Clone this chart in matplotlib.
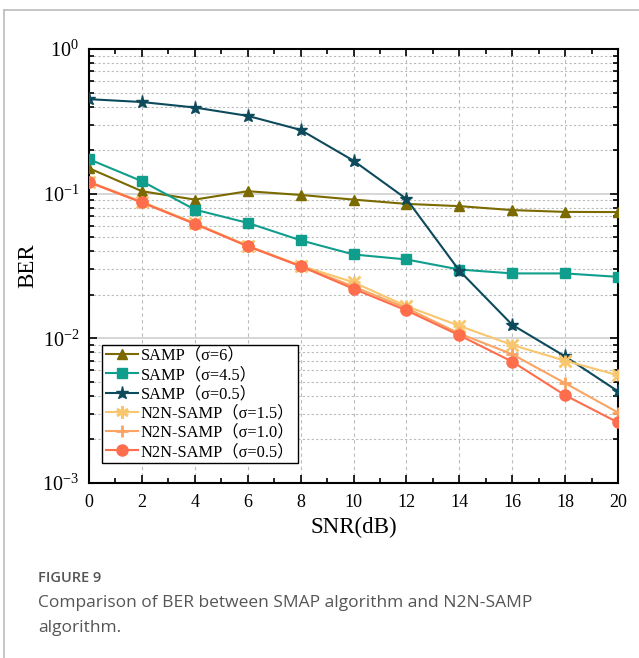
import numpy as np
import matplotlib
matplotlib.use('Agg')
import matplotlib.pyplot as plt
from matplotlib.ticker import LogLocator, MultipleLocator, NullFormatter
from matplotlib.lines import Line2D

snr = [0, 2, 4, 6, 8, 10, 12, 14, 16, 18, 20]

samp_6 = [0.150, 0.104, 0.091, 0.104, 0.098, 0.091, 0.085, 0.082, 0.077, 0.0748, 0.0746]
samp_45 = [0.173, 0.122, 0.0776, 0.0628, 0.0476, 0.0380, 0.0351, 0.0299, 0.0281, 0.0281, 0.0266]
samp_05 = [0.45, 0.43, 0.394, 0.345, 0.276, 0.169, 0.092, 0.0294, 0.0124, 0.0075, 0.0043]
n2n_15 = [0.121, 0.088, 0.0625, 0.0437, 0.0318, 0.0244, 0.0167, 0.0122, 0.0090, 0.0070, 0.00556]
n2n_10 = [0.120, 0.087, 0.0620, 0.0434, 0.0316, 0.0228, 0.0162, 0.0108, 0.00776, 0.0049, 0.00307]
n2n_05 = [0.120, 0.087, 0.0618, 0.0433, 0.0315, 0.0220, 0.0156, 0.0105, 0.0069, 0.00404, 0.00262]

labels = ['SAMP（σ=6）', 'SAMP（σ=4.5）', 'SAMP（σ=0.5）',
          'N2N-SAMP（σ=1.5）', 'N2N-SAMP（σ=1.0）', 'N2N-SAMP（σ=0.5）']
colors = ['#7a6a00', '#109e8c', '#0c4a5c', '#f8c66c', '#f9a463', '#fe6d4c']
markers = ['^', 's', '*', 'x', '+', 'o']
msizes = [7, 7, 9.5, 9, 9, 8]

serif = ['Liberation Serif', 'Noto Sans CJK SC']
plt.rcParams['font.family'] = serif
plt.rcParams['mathtext.fontset'] = 'stix'

fig = plt.figure(figsize=(6.39, 6.58), dpi=100, facecolor='white')
ax = fig.add_axes([89/639, 1-483/658, (618-89)/639, (483-49)/658])

series = [samp_6, samp_45, samp_05, n2n_15, n2n_10, n2n_05]
for vals, lab, c, m, ms in zip(series, labels, colors, markers, msizes):
    mew = 2 if m in ('x', '+') else 1
    ax.plot(snr, vals, color=c, marker=m, markersize=ms, markeredgewidth=mew,
            linewidth=1.5, label=lab, zorder=3)
    if m == 'x':
        # second pass turns the x into an asterisk
        ax.plot(snr, vals, color=c, marker='+', markersize=ms, markeredgewidth=mew,
                linestyle='none', zorder=3)

ax.set_yscale('log')
ax.set_ylim(1e-3, 1)
ax.set_xlim(0, 20)
ax.xaxis.set_major_locator(MultipleLocator(2))
ax.xaxis.set_minor_locator(MultipleLocator(1))
ax.yaxis.set_major_locator(LogLocator(base=10, numticks=10))
ax.yaxis.set_minor_locator(LogLocator(base=10, subs=np.arange(2, 10), numticks=10))
ax.yaxis.set_minor_formatter(NullFormatter())

ax.grid(True, which='major', axis='x', color='#bbbbbb', linestyle=(0, (3, 3)), linewidth=0.8)
ax.grid(True, which='major', axis='y', color='#d0d0d0', linestyle='-', linewidth=1.2)
ax.grid(True, which='minor', axis='y', color='#bbbbbb', linestyle=(0, (2, 2)), linewidth=0.8)
ax.set_axisbelow(True)

ax.tick_params(which='both', direction='in', top=True, right=True, width=1.2)
ax.tick_params(which='major', length=6)
ax.tick_params(which='minor', length=3.5)
ax.tick_params(axis='x', labelsize=13, pad=8)
ax.tick_params(axis='y', labelsize=14.5, pad=7)
for s in ax.spines.values():
    s.set_linewidth(1.5)

ax.set_xlabel('SNR(dB)', fontsize=16.5, labelpad=4)
ax.set_ylabel('BER', fontsize=16.5, labelpad=3)

leg = ax.legend(loc='lower left', bbox_to_anchor=(0.025, 0.045), fancybox=False,
                framealpha=1, edgecolor='black', prop={'family': serif, 'size': 11.8},
                handlelength=2.0, borderpad=0.2, labelspacing=0.2, handletextpad=0.15,
                borderaxespad=0)
leg.get_frame().set_linewidth(1.0)
leg.legend_handles[3].set_marker((6, 2, 0))

# figure frame and caption
fig.add_artist(Line2D([4/639, 1], [1-10/658, 1-10/658], color='#bbbbbb', linewidth=1.2))
fig.add_artist(Line2D([4/639, 4/639], [0, 1-10/658], color='#bbbbbb', linewidth=1.2))
fig.text(38/639, 1-578/658, 'FIGURE 9', family='Open Sans', fontsize=10.5,
         color='#555555', va='center', fontweight='semibold')
fig.text(38/639, 1-603/658, 'Comparison of BER between SMAP algorithm and N2N-SAMP',
         family='Open Sans', fontsize=12.5, color='#555555', va='center')
fig.text(38/639, 1-628/658, 'algorithm.', family='Open Sans', fontsize=12.5,
         color='#555555', va='center')

fig.savefig('out.png', dpi=100, facecolor='white')
